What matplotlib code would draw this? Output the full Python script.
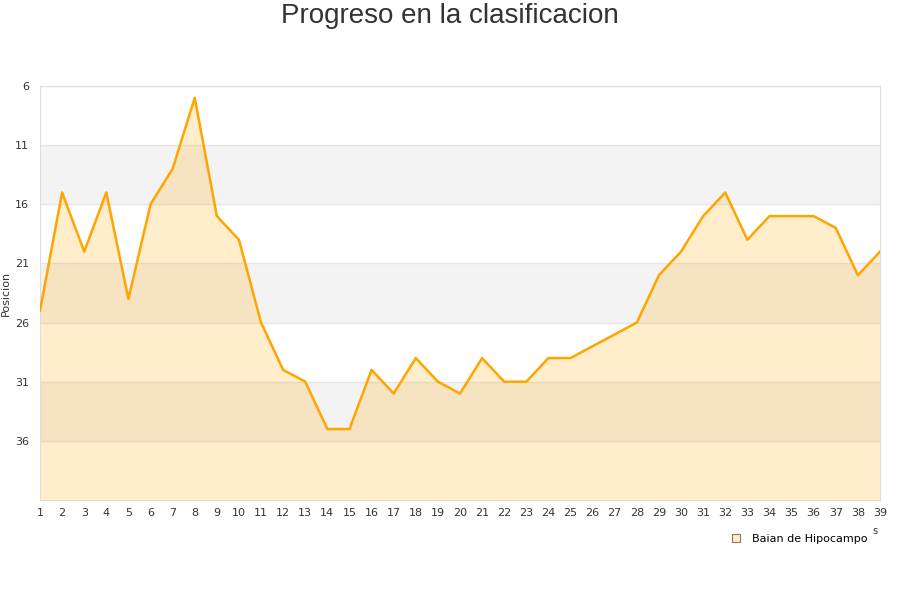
import matplotlib
matplotlib.use("Agg")
import matplotlib.pyplot as plt
from matplotlib.lines import Line2D

jornadas = list(range(1, 40))
posiciones = [25, 15, 20, 15, 24, 16, 13, 7, 17, 19,
              26, 30, 31, 35, 35, 30, 32, 29, 31, 32,
              29, 31, 31, 29, 29, 28, 27, 26, 22, 20,
              17, 15, 19, 17, 17, 17, 18, 22, 20]
serie = "Baian de Hipocampo"
y_ticks = [6, 11, 16, 21, 26, 31, 36]
bands = [(11, 16), (21, 26), (31, 36)]

fig = plt.figure(figsize=(9, 6), dpi=100)
ax = fig.add_axes([40/900, 1-500/600, 840/900, 414/600])

for a, b in bands:
    ax.axhspan(a, b, color="#F3F3F3", zorder=0, lw=0)
for t in y_ticks:
    ax.axhline(t, color="#E6E6E6", lw=1, zorder=1)

ax.fill_between(jornadas, posiciones, 41, color="#FFA500", alpha=0.2, lw=0, zorder=2)
ax.plot(jornadas, posiciones, color="#FFA500", lw=1.8, zorder=3)

ax.set_xlim(1, 39)
ax.set_ylim(41, 6)
ax.set_yticks(y_ticks)
ax.set_xticks(jornadas)
ax.tick_params(axis="both", length=0, labelsize=8, colors="#333333")
ax.tick_params(axis="y", pad=8)
ax.tick_params(axis="x", pad=6)
for s in ax.spines.values():
    s.set_color("#DDDDDD")
ax.set_ylabel("Posicion", fontsize=8, color="#333333")
ax.yaxis.set_label_coords(-29/840, (500-293)/414)

fig.text(0.5, 1-16/600, "Progreso en la clasificacion", ha="center", va="center",
         fontsize=20, color="#333333", family="Liberation Sans")
fig.text(875/900, 1-531/600, "s", ha="center", va="center", fontsize=7, color="#333333")

handle = Line2D([], [], marker="s", linestyle="none", markersize=6,
                markerfacecolor="#FFEDCC", markeredgecolor="#8C7A5A", markeredgewidth=0.8)
fig.legend([handle], [serie], loc="center", bbox_to_anchor=(796/900, 1-539/600),
           frameon=False, fontsize=8, handletextpad=0.4)

fig.savefig("out.png", dpi=100)
